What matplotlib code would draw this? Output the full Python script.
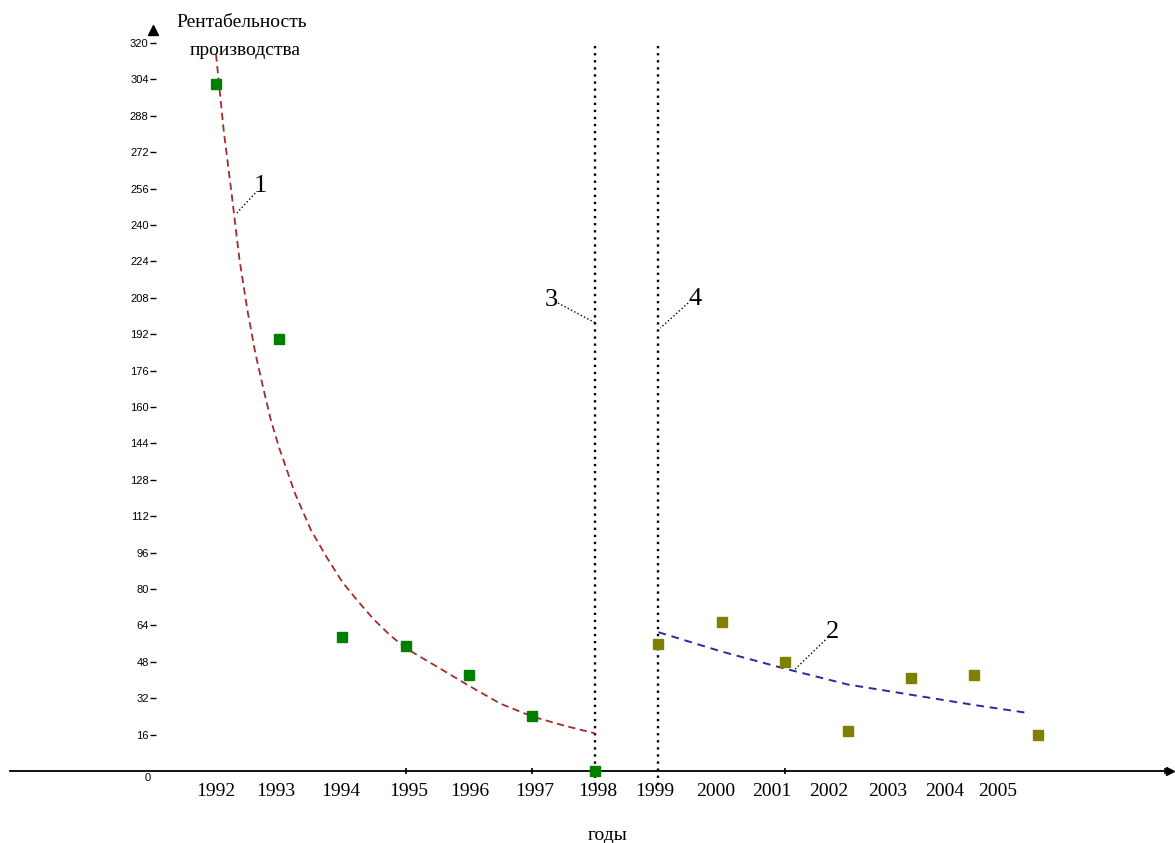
import matplotlib
matplotlib.use("Agg")
import matplotlib.pyplot as plt
from matplotlib.ticker import FixedLocator

# Фактические значения рентабельности 1992-1998 (зелёные точки)
years_1 = [1992, 1993, 1994, 1995, 1996, 1997, 1998]
rent_1 = [302, 190, 59, 55, 42, 24, 0]

# Фактические значения 1999-2005 (оливковые точки)
years_2 = [1999, 2000, 2001, 2002, 2003, 2004, 2005]
rent_2 = [56, 65.5, 48, 17.5, 41, 42, 16]

# Линия тренда 1
trend1_x = [1992.0, 1992.12, 1992.25, 1992.37, 1992.5, 1992.62, 1992.75, 1992.87,
            1993.0, 1993.25, 1993.5, 1993.75, 1994.0, 1994.25, 1994.5, 1994.75,
            1995.0, 1995.5, 1996.0, 1996.5, 1997.0, 1997.5, 1998.0]
trend1_y = [315, 282, 253, 225, 202, 184, 168, 154,
            142, 122, 106, 94, 83, 74.5, 66.5, 59.8,
            54, 45.8, 37.5, 29.6, 24, 20, 16.5]

# Линия тренда 2
trend2_x = [1999.0, 2000.0, 2001.0, 2002.0, 2003.0, 2004.0, 2004.85]
trend2_y = [61, 52.5, 45, 38, 33.5, 29, 25.5]

# Подписи оси X (сдвинуты как на исходном рисунке)
year_labels = ["1992", "1993", "1994", "1995", "1996", "1997", "1998",
               "1999", "2000", "2001", "2002", "2003", "2004", "2005"]
label_pos = [1992.0, 1992.95, 1993.98, 1995.05, 1996.02, 1997.05, 1998.04,
             1998.95, 1999.9, 2000.8, 2001.7, 2002.62, 2003.53, 2004.36]
y_ticks = list(range(16, 321, 16))

serif = ["Liberation Serif", "DejaVu Serif"]
narrow = ["Liberation Sans Narrow", "Liberation Sans", "DejaVu Sans"]

fig = plt.figure(figsize=(11.75, 8.43), dpi=100)
ax = fig.add_axes([0, 0, 1, 1])
ax.set_xlim(1988.582, 2007.174)
ax.set_ylim(-31.65, 338.9)

# оси
for s in ["top", "right"]:
    ax.spines[s].set_visible(False)
ax.spines["left"].set_position(("data", 1991))
ax.spines["left"].set_visible(False)
ax.spines["bottom"].set_position(("data", 0))
ax.spines["bottom"].set_bounds(1988.74, 2007.1)
ax.spines["bottom"].set_linewidth(1.3)

ax.set_yticks(y_ticks)
ax.set_yticklabels([str(v) for v in y_ticks], family=narrow, fontsize=8)
ax.tick_params(axis="y", direction="inout", length=4, width=1, pad=1)

ax.set_xticks(label_pos)
ax.set_xticklabels(year_labels, family=serif, fontsize=14)
ax.tick_params(axis="x", which="major", length=0, pad=9)
ax.xaxis.set_minor_locator(FixedLocator([1995, 1997, 2001, 2007.02]))
ax.tick_params(axis="x", which="minor", direction="inout", length=5, width=1.2)

ax.plot([2007.1], [0], marker=">", color="black", markersize=6, clip_on=False)
ax.plot([1991.0], [325.7], marker="^", color="black", markersize=7, clip_on=False)
ax.text(1990.92, -3.1, "0", family=narrow, fontsize=8, ha="center", va="center")

# вертикальные линии 3 и 4
ax.vlines([1998, 1999], -6, 320.5, colors="black", linestyles=(0, (1, 2)), linewidth=1.7)

# линии тренда
ax.plot(trend1_x, trend1_y, color="#a52a2a", linewidth=1.3, dashes=(4, 2.5), zorder=3)
ax.plot(trend2_x, trend2_y, color="#2a2aa0", linewidth=1.4, dashes=(4, 3), zorder=3)

# точки
ax.plot(years_1, rent_1, linestyle="none", marker="s", markersize=6.5, color="#008000", zorder=5, clip_on=False)
ax.plot(years_2, rent_2, linestyle="none", marker="s", markersize=6.5, color="#808000", zorder=5)

# выноски
leaders = [("1", (1992.70, 257), (1992.62, 254), (1992.33, 245.3)),
           ("3", (1997.30, 207), (1997.41, 205.7), (1998.0, 197)),
           ("4", (1999.58, 207.5), (1999.47, 205.7), (1999.03, 194.7)),
           ("2", (2001.75, 61.1), (2001.64, 57.6), (2001.15, 44.4))]
for txt, tpos, p0, p1 in leaders:
    ax.text(tpos[0], tpos[1], txt, family=serif, fontsize=19, ha="center", va="center")
    ax.plot([p0[0], p1[0]], [p0[1], p1[1]], color="black", linestyle=":", linewidth=1)

# подписи осей
ax.text(1992.41, 329.2, "Рентабельность", family=serif, fontsize=14, ha="center", va="center")
ax.text(1992.46, 316.9, "производства", family=serif, fontsize=14, ha="center", va="center")
ax.text(1998.2, -28.5, "годы", family=serif, fontsize=14, ha="center", va="center")

fig.savefig("out.png", dpi=100)
